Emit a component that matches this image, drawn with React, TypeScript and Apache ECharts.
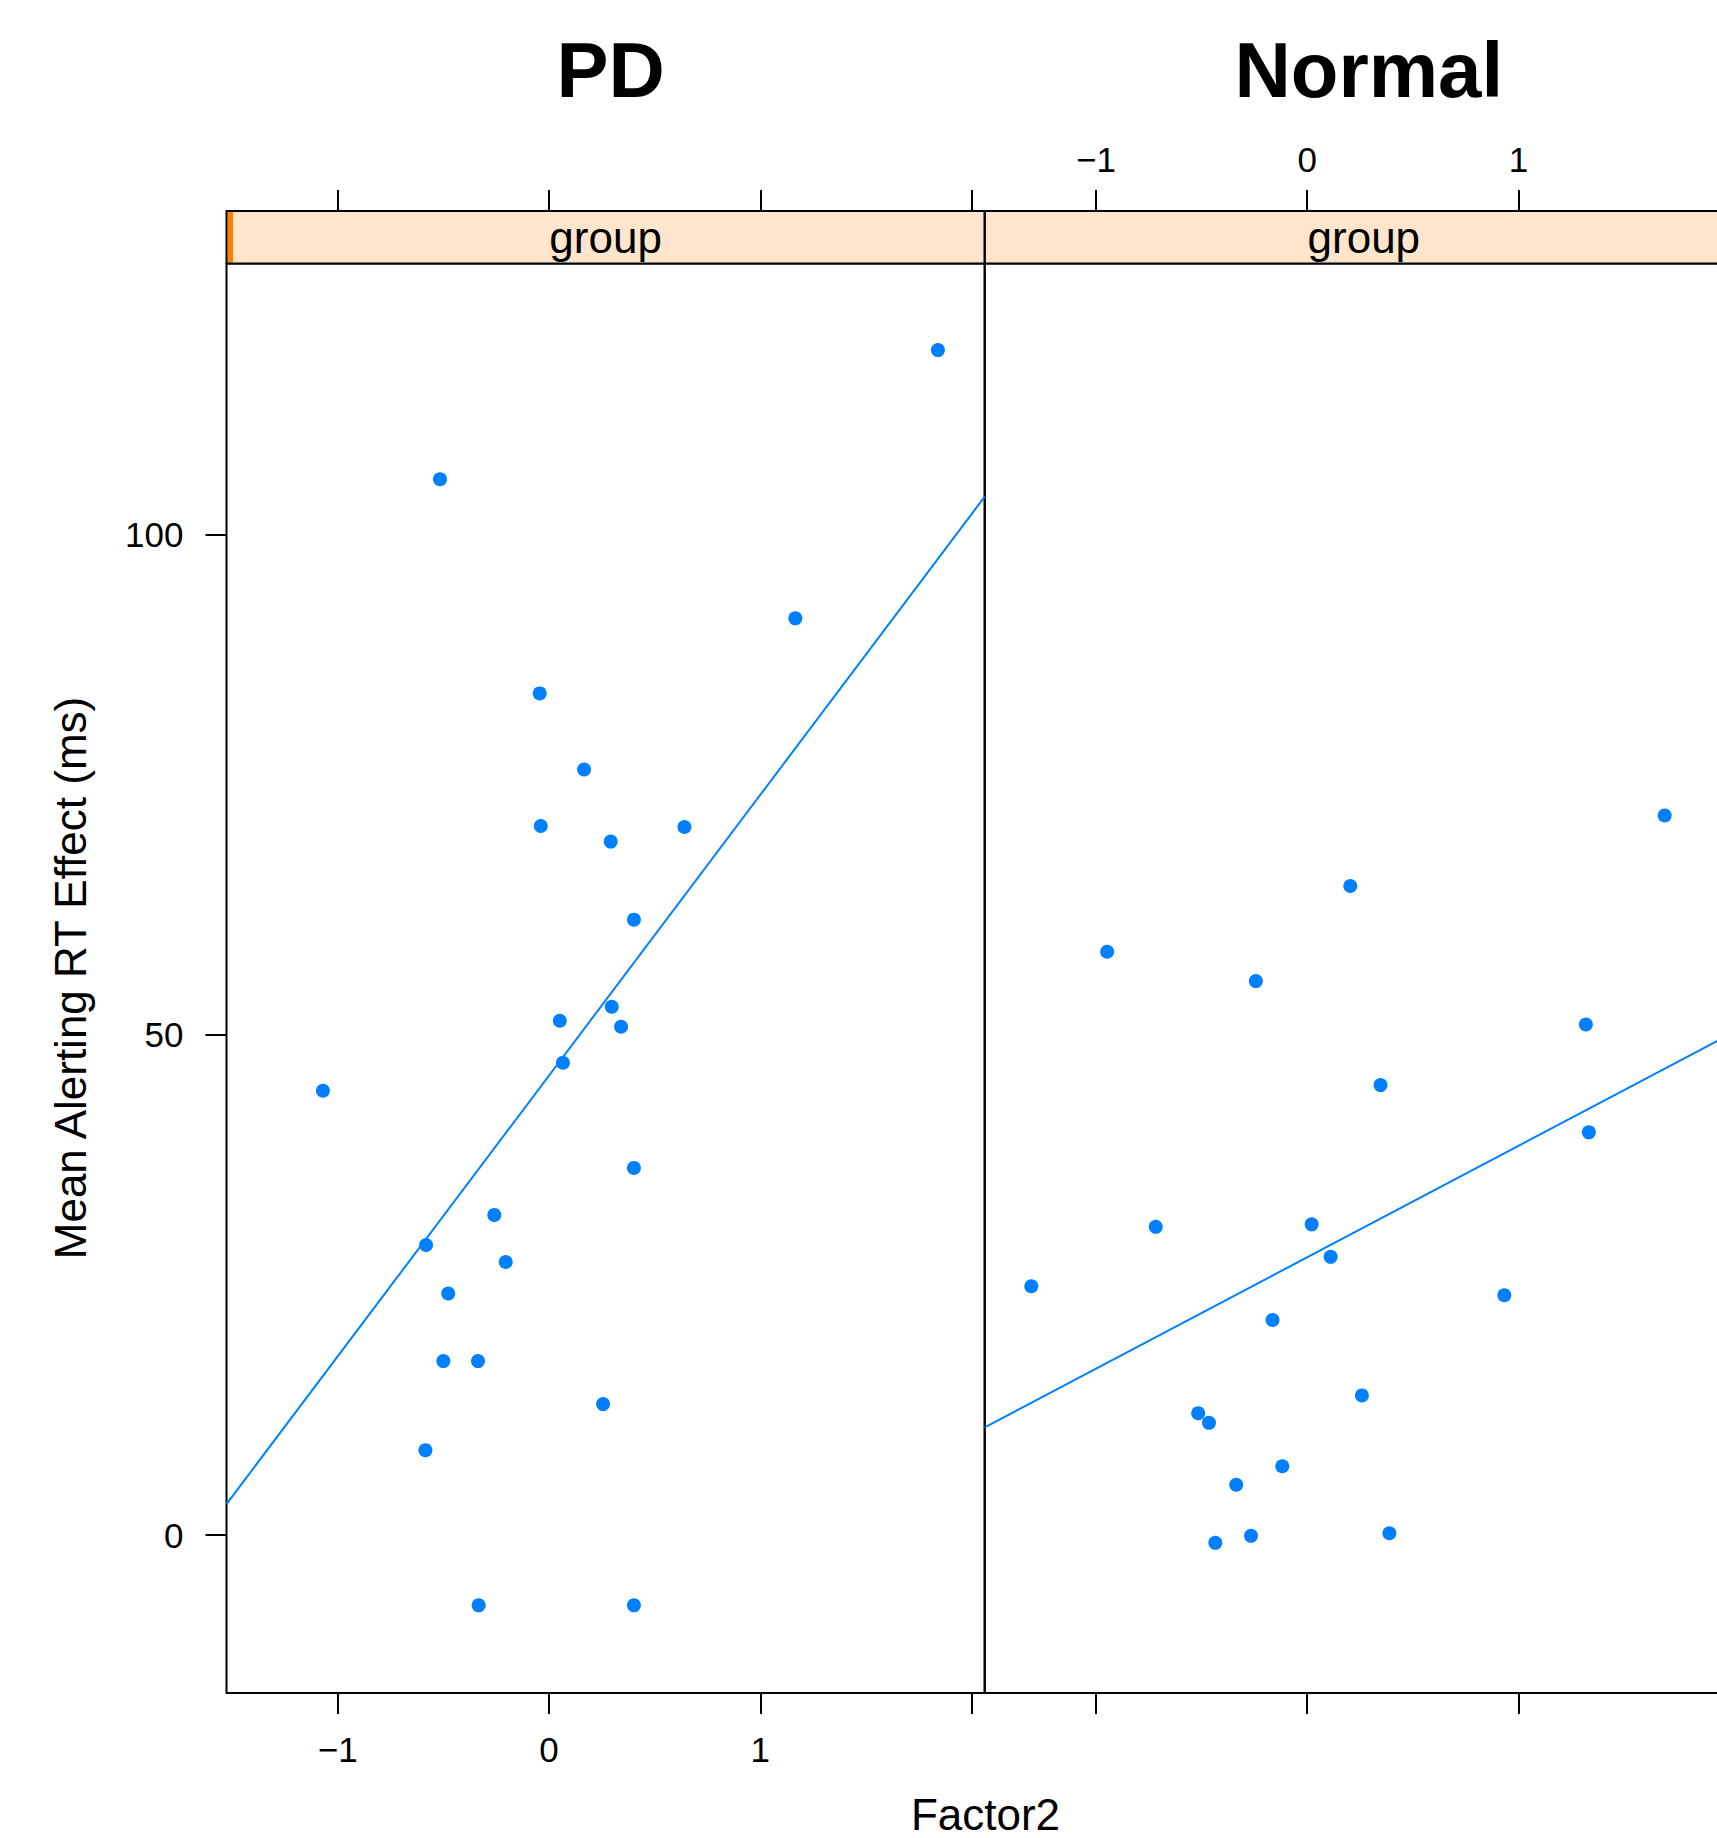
import React, { useEffect, useRef } from "react";
import * as echarts from "echarts";

// ---------- data ----------
const PANEL_TITLES = ["PD", "Normal"];
const STRIP_LABEL = "group";
const X_LABEL = "Factor2";
const Y_LABEL = "Mean Alerting RT Effect (ms)";
const X_TICKS = [-1, 0, 1, 2];
const X_TICK_LABELS = [-1, 0, 1];
const Y_TICKS = [0, 50, 100];
const X_RANGE = [-1.5265, 2.0623];
const Y_RANGE = [-15.76, 127.05];

const PD_X = [1.841, -0.516, 1.166, -0.044, 0.166, -0.039, 0.641, 0.292, 0.402, 0.297, 0.051, 0.341, 0.066, -1.07, 0.402, -0.259, -0.582, -0.205, -0.477, -0.5, -0.336, 0.256, -0.585, -0.333, 0.402];
const PD_Y = [118.4, 105.5, 91.6, 84.1, 76.5, 70.85, 70.75, 69.3, 61.5, 52.8, 51.4, 50.8, 47.2, 44.4, 36.7, 32.0, 29.0, 27.3, 24.15, 17.4, 17.4, 13.1, 8.5, -7.0, -7.0];

const NORMAL_X = [1.692, 0.204, -0.947, -0.243, 1.319, 0.347, 1.333, -0.717, 0.021, 0.111, -1.306, 0.933, -0.164, 0.259, -0.516, -0.465, -0.118, -0.336, -0.266, -0.435, 0.389];
const NORMAL_Y = [71.9, 64.86, 58.29, 55.36, 51.02, 44.97, 40.25, 30.81, 31.06, 27.81, 24.88, 23.98, 21.5, 13.97, 12.19, 11.23, 6.89, 5.04, -0.06, -0.76, 0.2];

// ---------- layout ----------
const W = 1717;
const H = 1838;
const CHART_W = 1790; // wider than the page: the right panel is cut off like in the reference
const PANEL_TOP = 263.5;
const PANEL_H = 1429.5;
const PANEL_W = 758.2;
const PANEL_LEFT = [226.5, 984.7];
const STRIP_TOP = 211;
const STRIP_H = 52.5;
const FONT = '"Liberation Sans", Arial, Helvetica, sans-serif';
const POINT_COLOR = "#0080FF";

function lmFit(xs: number[], ys: number[]) {
  const n = xs.length;
  const mx = xs.reduce((a, b) => a + b, 0) / n;
  const my = ys.reduce((a, b) => a + b, 0) / n;
  let sxy = 0;
  let sxx = 0;
  for (let i = 0; i < n; i++) {
    sxy += (xs[i] - mx) * (ys[i] - my);
    sxx += (xs[i] - mx) * (xs[i] - mx);
  }
  const b = sxy / sxx;
  const a = my - b * mx;
  return [a, b];
}

const fmt = (v: number) => (v < 0 ? "\u2212" + Math.abs(v) : String(v));

function fitLine(xs: number[], ys: number[]) {
  const [a, b] = lmFit(xs, ys);
  return [
    [X_RANGE[0], a + b * X_RANGE[0]],
    [X_RANGE[1], a + b * X_RANGE[1]],
  ];
}

function xAxisDef(gridIndex: number, position: "top" | "bottom", showLabels: boolean) {
  return {
    gridIndex,
    type: "value",
    position,
    offset: position === "top" ? STRIP_H : 0,
    min: X_RANGE[0],
    max: X_RANGE[1],
    axisLine: { show: false, onZero: false },
    splitLine: { show: false },
    axisTick: {
      show: true,
      inside: false,
      length: 21,
      customValues: X_TICKS,
      lineStyle: { color: "#000", width: 2 },
    },
    axisLabel: {
      show: showLabels,
      customValues: X_TICK_LABELS,
      margin: position === "top" ? 34.5 : 39,
      fontSize: 35,
      fontFamily: FONT,
      color: "#000",
      formatter: fmt,
    },
  };
}

export default function App() {
  const ref = useRef<HTMLDivElement>(null);

  useEffect(() => {
    if (!ref.current) return;
    const chart = echarts.init(ref.current, undefined, { renderer: "svg" });

    const graphic: any[] = [];
    PANEL_LEFT.forEach((left) => {
      graphic.push({
        type: "rect",
        shape: { x: left, y: STRIP_TOP, width: PANEL_W, height: STRIP_H },
        style: { fill: "#FFE5CC", stroke: "none" },
        z: 1,
      });
    });
    graphic.push({
      type: "rect",
      shape: { x: PANEL_LEFT[0] + 1, y: STRIP_TOP + 1, width: 5.5, height: STRIP_H - 2 },
      style: { fill: "#FF7F00", stroke: "none" },
      z: 2,
    });
    PANEL_LEFT.forEach((left, i) => {
      graphic.push({
        type: "rect",
        shape: { x: left, y: STRIP_TOP, width: PANEL_W, height: STRIP_H },
        style: { fill: "none", stroke: "#000", lineWidth: 2 },
        z: 3,
      });
      graphic.push({
        type: "text",
        x: left + PANEL_W / 2,
        y: STRIP_TOP + STRIP_H / 2,
        z: 4,
        style: {
          text: STRIP_LABEL,
          fontSize: 44,
          fontFamily: FONT,
          fill: "#000",
          align: "center",
          verticalAlign: "middle",
          textAlign: "center",
          textVerticalAlign: "middle",
        },
      });
      graphic.push({
        type: "text",
        x: left + PANEL_W / 2 + 5,
        y: 70,
        z: 4,
        style: {
          text: PANEL_TITLES[i],
          fontSize: 78,
          fontWeight: "bold",
          fontFamily: FONT,
          fill: "#000",
          align: "center",
          verticalAlign: "middle",
          textAlign: "center",
          textVerticalAlign: "middle",
        },
      });
    });
    graphic.push({
      type: "text",
      x: 985.5,
      y: 1814,
      z: 4,
      style: {
        text: X_LABEL,
        fontSize: 44,
        fontFamily: FONT,
        fill: "#000",
        align: "center",
        verticalAlign: "middle",
        textAlign: "center",
        textVerticalAlign: "middle",
      },
    });
    graphic.push({
      type: "text",
      x: 70,
      y: 978,
      rotation: Math.PI / 2,
      z: 4,
      style: {
        text: Y_LABEL,
        fontSize: 44,
        fontFamily: FONT,
        fill: "#000",
        align: "center",
        verticalAlign: "middle",
        textAlign: "center",
        textVerticalAlign: "middle",
      },
    });

    const option: any = {
      animation: false,
      backgroundColor: "#fff",
      grid: PANEL_LEFT.map((left) => ({
        left,
        top: PANEL_TOP,
        width: PANEL_W,
        height: PANEL_H,
        show: true,
        borderColor: "#000",
        borderWidth: 2,
        backgroundColor: "transparent",
        containLabel: false,
      })),
      xAxis: [
        xAxisDef(0, "bottom", true),
        xAxisDef(0, "top", false),
        xAxisDef(1, "bottom", false),
        xAxisDef(1, "top", true),
      ],
      yAxis: [
        {
          gridIndex: 0,
          type: "value",
          position: "left",
          min: Y_RANGE[0],
          max: Y_RANGE[1],
          axisLine: { show: false, onZero: false },
          splitLine: { show: false },
          axisTick: {
            show: true,
            inside: false,
            length: 21,
            customValues: Y_TICKS,
            lineStyle: { color: "#000", width: 2 },
          },
          axisLabel: {
            show: true,
            customValues: Y_TICKS,
            margin: 43,
            fontSize: 35,
            fontFamily: FONT,
            color: "#000",
            formatter: fmt,
          },
        },
        {
          gridIndex: 1,
          type: "value",
          min: Y_RANGE[0],
          max: Y_RANGE[1],
          axisLine: { show: false, onZero: false },
          splitLine: { show: false },
          axisTick: { show: false },
          axisLabel: { show: false },
        },
      ],
      series: [
        {
          type: "line",
          xAxisIndex: 0,
          yAxisIndex: 0,
          data: fitLine(PD_X, PD_Y),
          showSymbol: false,
          symbol: "none",
          clip: true,
          lineStyle: { color: POINT_COLOR, width: 2 },
          z: 2,
        },
        {
          type: "scatter",
          xAxisIndex: 0,
          yAxisIndex: 0,
          data: PD_X.map((x, i) => [x, PD_Y[i]]),
          symbol: "circle",
          symbolSize: 14,
          itemStyle: { color: POINT_COLOR, opacity: 1 },
          z: 3,
        },
        {
          type: "line",
          xAxisIndex: 2,
          yAxisIndex: 1,
          data: fitLine(NORMAL_X, NORMAL_Y),
          showSymbol: false,
          symbol: "none",
          clip: true,
          lineStyle: { color: POINT_COLOR, width: 2 },
          z: 2,
        },
        {
          type: "scatter",
          xAxisIndex: 2,
          yAxisIndex: 1,
          data: NORMAL_X.map((x, i) => [x, NORMAL_Y[i]]),
          symbol: "circle",
          symbolSize: 14,
          itemStyle: { color: POINT_COLOR, opacity: 1 },
          z: 3,
        },
      ],
      graphic,
    };

    chart.setOption(option);
    return () => chart.dispose();
  }, []);

  return (
    <div
      style={{
        position: "absolute",
        left: 0,
        top: 0,
        width: W,
        height: H,
        overflow: "hidden",
        background: "#fff",
      }}
    >
      <div ref={ref} style={{ width: CHART_W, height: H }} />
    </div>
  );
}
